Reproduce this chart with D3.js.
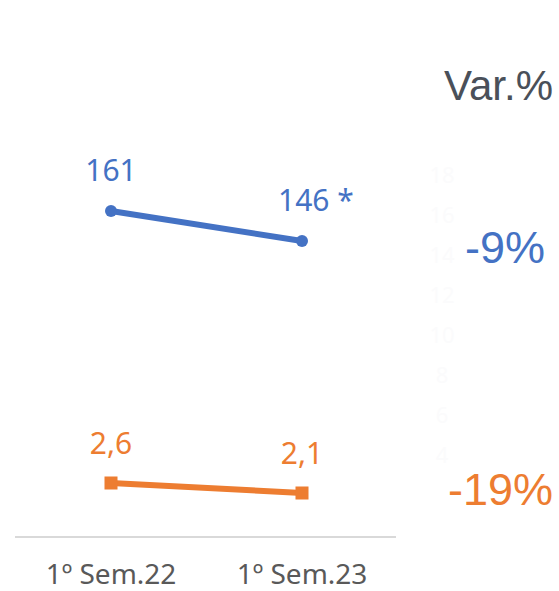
<!DOCTYPE html>
<html>
<head>
<meta charset="utf-8">
<script src="https://cdn.jsdelivr.net/npm/d3@7"></script>
<style>
  body { margin: 0; background: #fff; }
  svg { display: block; }
</style>
</head>
<body>
<svg id="chart"></svg>
<script>
// data
const periods = ["1º Sem.22", "1º Sem.23"];
const blueValues = [161, 146];
const blueLabels = ["161", "146 *"];
const orangeValues = [2.6, 2.1];
const orangeLabels = ["2,6", "2,1"];
const ghostTicks = [18, 16, 14, 12, 10, 8, 6, 4];
const varLabels = ["-9%", "-19%"];

const width = 559;
const height = 591;
const blue = "#4472C4";
const orange = "#ED7D31";

const svg = d3.select("#chart").attr("width", width).attr("height", height);

// scales
const x = d3.scalePoint().domain(periods).range([111, 302]);
const yLeft = d3.scaleLinear().domain([0, 20]).range([535, 135]);   // orange
const yRight = d3.scaleLinear().domain([0, 200]).range([533, 133]); // blue

// baseline
svg.append("line")
  .attr("x1", 15).attr("x2", 396)
  .attr("y1", 537).attr("y2", 537)
  .attr("stroke", "#d9d9d9")
  .attr("stroke-width", 2);

// category labels
svg.append("g")
  .selectAll("text")
  .data(periods)
  .enter()
  .append("text")
  .attr("x", (d) => x(d))
  .attr("y", 584)
  .attr("text-anchor", "middle")
  .style("font-family", "'Noto Sans', sans-serif")
  .style("font-size", "28px")
  .attr("fill", "#595959")
  .text((d) => d);

// faint ghost axis labels
svg.append("g")
  .selectAll("text")
  .data(ghostTicks)
  .enter()
  .append("text")
  .attr("x", 442)
  .attr("y", (d) => yLeft(d) + 8)
  .attr("text-anchor", "middle")
  .style("font-family", "'Noto Sans', sans-serif")
  .style("font-size", "22px")
  .attr("fill", "#fbfbfc")
  .text((d) => d);

// blue series
const line = (ys) => d3.line().x((d, i) => x(periods[i])).y((d) => ys(d));
svg.append("path")
  .datum(blueValues)
  .attr("d", line(yRight))
  .attr("fill", "none")
  .attr("stroke", blue)
  .attr("stroke-width", 6);
svg.append("g")
  .selectAll("circle")
  .data(blueValues)
  .enter()
  .append("circle")
  .attr("cx", (d, i) => x(periods[i]))
  .attr("cy", (d) => yRight(d))
  .attr("r", 6)
  .attr("fill", blue);
svg.append("g")
  .selectAll("text")
  .data(blueValues)
  .enter()
  .append("text")
  .attr("x", (d, i) => (i === 0 ? x(periods[i]) : x(periods[i]) - 24))
  .attr("y", (d) => yRight(d) - 30)
  .attr("text-anchor", (d, i) => (i === 0 ? "middle" : "start"))
  .style("font-family", "'Noto Sans', sans-serif")
  .style("font-size", "30px")
  .attr("fill", blue)
  .text((d, i) => blueLabels[i]);

// orange series
svg.append("path")
  .datum(orangeValues)
  .attr("d", line(yLeft))
  .attr("fill", "none")
  .attr("stroke", orange)
  .attr("stroke-width", 6);
svg.append("g")
  .selectAll("rect")
  .data(orangeValues)
  .enter()
  .append("rect")
  .attr("x", (d, i) => x(periods[i]) - 6.5)
  .attr("y", (d) => yLeft(d) - 6.5)
  .attr("width", 13)
  .attr("height", 13)
  .attr("fill", orange);
svg.append("g")
  .selectAll("text")
  .data(orangeValues)
  .enter()
  .append("text")
  .attr("x", (d, i) => x(periods[i]))
  .attr("y", (d) => yLeft(d) - 29)
  .attr("text-anchor", "middle")
  .style("font-family", "'Noto Sans', sans-serif")
  .style("font-size", "30px")
  .attr("fill", orange)
  .text((d, i) => orangeLabels[i]);

// variation column
const rightText = svg.append("g")
  .style("font-family", "'Liberation Sans', Arial, sans-serif");
rightText.append("text")
  .attr("x", 553).attr("y", 100)
  .attr("text-anchor", "end")
  .style("font-size", "42px")
  .attr("fill", "#4a5059")
  .text("Var.%");
rightText.append("text")
  .attr("x", 545).attr("y", 263)
  .attr("text-anchor", "end")
  .style("font-size", "45px")
  .attr("fill", blue)
  .text(varLabels[0]);
rightText.append("text")
  .attr("x", 553).attr("y", 505)
  .attr("text-anchor", "end")
  .style("font-size", "45px")
  .attr("fill", orange)
  .text(varLabels[1]);
</script>
</body>
</html>
